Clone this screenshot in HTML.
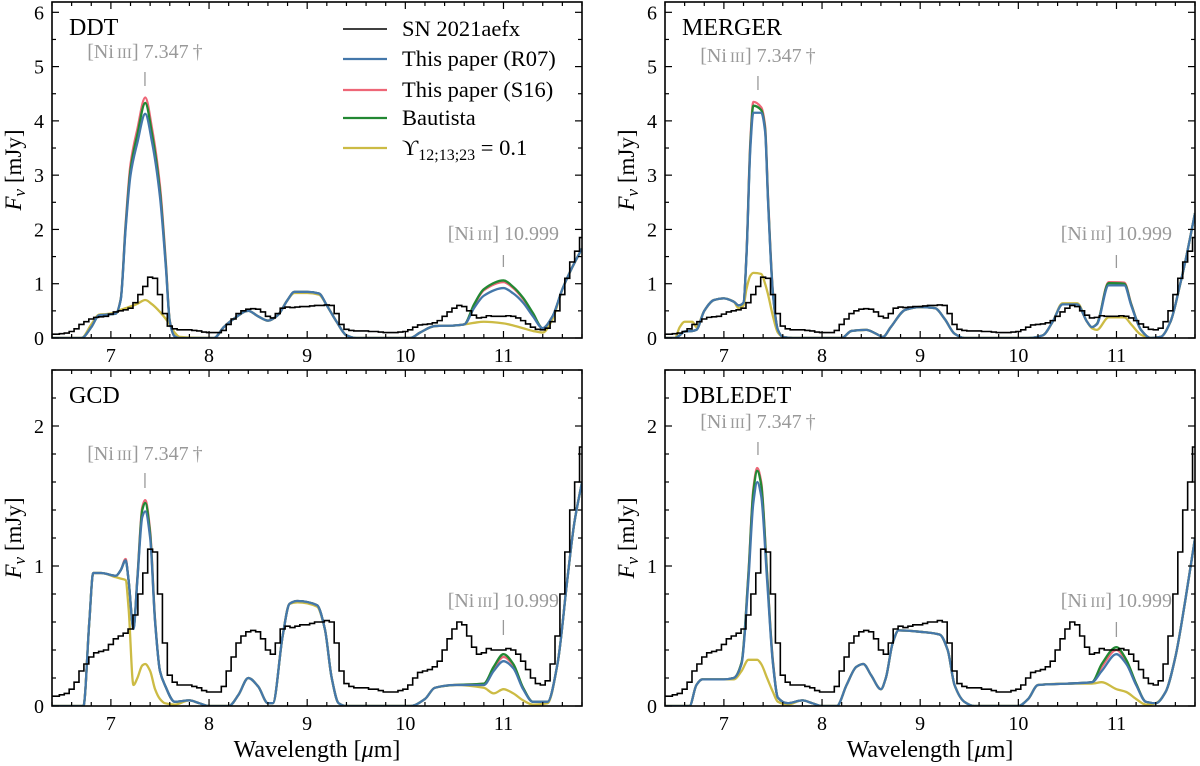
<!DOCTYPE html>
<html>
<head>
<meta charset="utf-8">
<style>
  html,body{margin:0;padding:0;background:#fff;}
  svg{display:block;}
  text{font-family:"Liberation Serif","DejaVu Serif",serif;}
</style>
</head>
<body>
<svg id="fig" width="1200" height="766" viewBox="0 0 1200 766" xmlns="http://www.w3.org/2000/svg"></svg>
<script>
// ---------- Observed spectrum (SN 2021aefx), shared by all panels ----------
const obsWl = [6.40,6.45,6.50,6.55,6.60,6.65,6.70,6.75,6.80,6.85,6.90,6.95,7.00,7.05,7.10,7.15,7.20,7.25,7.30,7.35,7.40,7.45,7.50,7.55,7.60,7.65,7.70,7.75,7.80,7.85,7.90,7.95,8.00,8.05,8.10,8.15,8.20,8.25,8.30,8.35,8.40,8.45,8.50,8.55,8.60,8.65,8.70,8.75,8.80,8.85,8.90,8.95,9.00,9.05,9.10,9.15,9.20,9.25,9.30,9.35,9.40,9.45,9.50,9.55,9.60,9.65,9.70,9.75,9.80,9.85,9.90,9.95,10.00,10.05,10.10,10.15,10.20,10.25,10.30,10.35,10.40,10.45,10.50,10.55,10.60,10.65,10.70,10.75,10.80,10.85,10.90,10.95,11.00,11.05,11.10,11.15,11.20,11.25,11.30,11.35,11.40,11.45,11.50,11.55,11.60,11.65,11.70,11.75,11.80];
const obsFlux = [0.07,0.07,0.08,0.09,0.12,0.17,0.25,0.30,0.35,0.38,0.39,0.40,0.44,0.48,0.50,0.52,0.55,0.65,0.80,0.95,1.12,1.10,0.80,0.45,0.22,0.17,0.15,0.15,0.15,0.14,0.13,0.11,0.10,0.10,0.10,0.14,0.25,0.35,0.45,0.50,0.53,0.54,0.53,0.48,0.40,0.37,0.45,0.55,0.57,0.56,0.57,0.58,0.58,0.59,0.60,0.60,0.61,0.60,0.45,0.25,0.16,0.14,0.13,0.13,0.13,0.12,0.12,0.11,0.10,0.10,0.10,0.11,0.12,0.15,0.20,0.24,0.25,0.26,0.28,0.32,0.40,0.48,0.55,0.60,0.58,0.50,0.42,0.37,0.38,0.41,0.40,0.40,0.40,0.41,0.40,0.37,0.32,0.26,0.20,0.16,0.15,0.18,0.30,0.50,0.80,1.10,1.40,1.60,1.85];

// ---------- DDT ----------
const ddtWl = [6.4,6.7,6.8,6.88,6.95,7.05,7.1,7.15,7.2,7.27,7.35,7.42,7.5,7.56,7.6,7.65,7.7,8.05,8.15,8.25,8.4,8.5,8.6,8.7,8.8,8.87,9.0,9.12,9.2,9.3,9.4,9.5,10.05,10.15,10.3,10.5,10.6,10.7,10.8,11.0,11.1,11.2,11.3,11.4,11.5,11.6,11.7,11.8];
const ddtR07 = [0,0,0.2,0.42,0.43,0.45,0.7,2.0,3.0,3.6,4.13,3.6,2.6,1.3,0.3,0.03,0,0,0.2,0.35,0.5,0.4,0.32,0.42,0.7,0.85,0.85,0.82,0.6,0.3,0.05,0,0,0.1,0.22,0.23,0.25,0.55,0.78,0.92,0.82,0.65,0.4,0.18,0.4,0.9,1.3,1.65];
const ddtS16 = [0,0,0.2,0.42,0.43,0.45,0.72,2.1,3.2,3.85,4.43,3.85,2.8,1.4,0.32,0.03,0,0,0.2,0.35,0.5,0.4,0.32,0.42,0.7,0.85,0.85,0.82,0.6,0.3,0.05,0,0,0.1,0.22,0.23,0.25,0.6,0.88,1.03,0.92,0.72,0.45,0.18,0.4,0.9,1.3,1.65];
const ddtBau = [0,0,0.2,0.42,0.43,0.45,0.71,2.05,3.1,3.75,4.33,3.75,2.7,1.35,0.31,0.03,0,0,0.2,0.35,0.5,0.4,0.32,0.42,0.7,0.85,0.85,0.82,0.6,0.3,0.05,0,0,0.1,0.22,0.23,0.25,0.62,0.9,1.06,0.94,0.74,0.46,0.18,0.4,0.9,1.3,1.65];
const ddtUps = [0,0,0.25,0.43,0.44,0.47,0.52,0.55,0.58,0.63,0.7,0.62,0.48,0.35,0.25,0.1,0.02,0,0.2,0.35,0.5,0.4,0.32,0.42,0.7,0.83,0.83,0.8,0.6,0.3,0.05,0,0,0.1,0.22,0.23,0.25,0.28,0.3,0.27,0.23,0.18,0.13,0.1,0.35,0.9,1.3,1.65];

// ---------- MERGER ----------
const mrgWl = [6.4,6.5,6.55,6.6,6.68,6.72,6.8,6.9,7.0,7.1,7.15,7.2,7.23,7.27,7.3,7.38,7.42,7.45,7.5,7.55,7.6,7.7,8.2,8.3,8.45,8.55,8.62,8.7,8.85,9.0,9.15,9.25,9.35,9.45,10.1,10.25,10.35,10.45,10.6,10.7,10.75,10.8,10.92,11.08,11.15,11.25,11.35,11.45,11.55,11.65,11.7,11.8];
const mrgR07 = [0,0,0.05,0.12,0.13,0.15,0.5,0.7,0.73,0.67,0.6,0.65,1.5,3.5,4.15,4.15,3.8,2.5,0.8,0.15,0.02,0,0,0.13,0.15,0.08,0.02,0.2,0.52,0.57,0.55,0.35,0.08,0,0,0.05,0.3,0.62,0.62,0.3,0.2,0.25,0.97,0.97,0.6,0.15,0,0.02,0.3,1.0,1.4,2.3];
const mrgS16 = [0,0,0.05,0.12,0.13,0.15,0.5,0.7,0.73,0.67,0.6,0.65,1.55,3.65,4.35,4.25,3.9,2.6,0.85,0.15,0.02,0,0,0.13,0.15,0.08,0.02,0.2,0.52,0.57,0.55,0.35,0.08,0,0,0.05,0.3,0.62,0.62,0.3,0.2,0.26,1.03,1.02,0.63,0.15,0,0.02,0.3,1.0,1.4,2.3];
const mrgBau = [0,0,0.05,0.12,0.13,0.15,0.5,0.7,0.73,0.67,0.6,0.65,1.52,3.58,4.28,4.2,3.85,2.55,0.82,0.15,0.02,0,0,0.13,0.15,0.08,0.02,0.2,0.52,0.57,0.55,0.35,0.08,0,0,0.05,0.3,0.62,0.62,0.3,0.2,0.26,1.01,1.0,0.62,0.15,0,0.02,0.3,1.0,1.4,2.3];
const mrgUps = [0,0,0.2,0.3,0.3,0.2,0.5,0.7,0.73,0.67,0.55,0.6,0.9,1.15,1.2,1.18,1.0,0.8,0.4,0.1,0.02,0,0,0.13,0.15,0.08,0.02,0.2,0.52,0.57,0.55,0.35,0.08,0,0,0.05,0.3,0.64,0.64,0.3,0.18,0.15,0.38,0.38,0.25,0.06,0,0.02,0.3,1.0,1.4,2.3];

// ---------- GCD ----------
const gcdWl = [6.4,6.72,6.78,6.82,6.9,7.05,7.1,7.15,7.18,7.23,7.27,7.32,7.35,7.4,7.45,7.5,7.55,7.65,7.8,7.9,8.0,8.2,8.3,8.4,8.5,8.6,8.65,8.75,8.82,8.9,9.1,9.18,9.25,9.32,9.4,10.05,10.2,10.3,10.5,10.8,10.9,11.0,11.1,11.2,11.3,11.45,11.55,11.65,11.72,11.8];
const gcdR07 = [0,0,0.6,0.95,0.95,0.93,0.97,1.04,0.9,0.55,0.9,1.35,1.39,1.2,0.6,0.25,0.15,0.03,0.04,0.02,0,0,0.08,0.2,0.14,0.02,0.02,0.5,0.73,0.75,0.72,0.55,0.2,0.02,0,0,0.05,0.13,0.15,0.15,0.25,0.32,0.27,0.12,0.03,0.03,0.3,0.9,1.3,1.6];
const gcdS16 = [0,0,0.6,0.95,0.95,0.93,0.97,1.05,0.9,0.56,0.92,1.42,1.47,1.25,0.62,0.25,0.15,0.03,0.04,0.02,0,0,0.08,0.2,0.14,0.02,0.02,0.5,0.73,0.75,0.72,0.55,0.2,0.02,0,0,0.05,0.13,0.15,0.16,0.27,0.35,0.29,0.13,0.03,0.03,0.3,0.9,1.3,1.6];
const gcdBau = [0,0,0.6,0.95,0.95,0.93,0.97,1.04,0.9,0.56,0.91,1.4,1.45,1.23,0.61,0.25,0.15,0.03,0.04,0.02,0,0,0.08,0.2,0.14,0.02,0.02,0.5,0.73,0.75,0.72,0.55,0.2,0.02,0,0,0.05,0.13,0.15,0.16,0.28,0.37,0.3,0.13,0.03,0.03,0.3,0.9,1.3,1.6];
const gcdUps = [0,0,0.6,0.95,0.95,0.92,0.91,0.9,0.7,0.15,0.2,0.29,0.3,0.25,0.12,0.05,0.02,0.01,0.04,0.02,0,0,0.08,0.2,0.14,0.02,0.02,0.5,0.73,0.74,0.71,0.55,0.2,0.02,0,0,0.05,0.13,0.15,0.13,0.09,0.12,0.09,0.04,0.01,0.02,0.3,0.9,1.3,1.6];

// ---------- DBLEDET ----------
const dblWl = [6.4,6.65,6.72,6.78,7.0,7.1,7.18,7.25,7.3,7.34,7.38,7.44,7.5,7.55,7.65,7.8,7.9,8.0,8.15,8.25,8.35,8.42,8.5,8.6,8.65,8.72,8.78,9.0,9.2,9.28,9.35,9.45,9.55,10.0,10.1,10.2,10.5,10.75,10.85,11.0,11.1,11.2,11.3,11.4,11.5,11.6,11.7,11.8];
const dblR07 = [0,0,0.15,0.19,0.19,0.2,0.3,0.9,1.45,1.6,1.5,0.9,0.3,0.06,0.02,0.04,0.02,0,0,0.15,0.28,0.3,0.22,0.12,0.2,0.45,0.54,0.53,0.51,0.4,0.15,0.03,0,0,0.05,0.15,0.16,0.17,0.25,0.37,0.3,0.15,0.03,0.02,0.1,0.35,0.75,1.2];
const dblS16 = [0,0,0.15,0.19,0.19,0.2,0.31,0.95,1.55,1.7,1.6,0.95,0.32,0.06,0.02,0.04,0.02,0,0,0.15,0.28,0.3,0.22,0.12,0.2,0.45,0.54,0.53,0.51,0.4,0.15,0.03,0,0,0.05,0.15,0.16,0.17,0.28,0.4,0.32,0.16,0.03,0.02,0.1,0.35,0.75,1.2];
const dblBau = [0,0,0.15,0.19,0.19,0.2,0.31,0.94,1.53,1.68,1.58,0.94,0.31,0.06,0.02,0.04,0.02,0,0,0.15,0.28,0.3,0.22,0.12,0.2,0.45,0.54,0.53,0.51,0.4,0.15,0.03,0,0,0.05,0.15,0.16,0.17,0.3,0.42,0.33,0.16,0.03,0.02,0.1,0.35,0.75,1.2];
const dblUps = [0,0,0.15,0.19,0.19,0.19,0.25,0.33,0.33,0.33,0.3,0.2,0.1,0.03,0.01,0.04,0.02,0,0,0.15,0.28,0.3,0.22,0.12,0.2,0.45,0.54,0.53,0.51,0.4,0.15,0.03,0,0,0.05,0.15,0.16,0.16,0.17,0.12,0.1,0.05,0.01,0.02,0.1,0.35,0.75,1.2];

const xTicks = [7,8,9,10,11];
const topYTicks = [0,1,2,3,4,5,6];
const botYTicks = [0,1,2];
const legendLabels = ["SN 2021aefx","This paper (R07)","This paper (S16)","Bautista"];

const COL = {obs:"#000000", r07:"#4477aa", s16:"#ee6677", bau:"#228833", ups:"#ccbb44", ann:"#999999"};
const NS = "http://www.w3.org/2000/svg";
const svg = document.getElementById("fig");

function mk(tag, attrs, parent){
  const e = document.createElementNS(NS, tag);
  for (const k in attrs) e.setAttribute(k, attrs[k]);
  (parent || svg).appendChild(e);
  return e;
}

function monoPath(px, py){
  const n = px.length;
  const d = [], m = new Array(n).fill(0);
  for (let i=0;i<n-1;i++) d.push((py[i+1]-py[i])/(px[i+1]-px[i]));
  m[0]=d[0]; m[n-1]=d[n-2];
  for (let i=1;i<n-1;i++){
    if (d[i-1]*d[i] <= 0) m[i]=0;
    else { const w1=2*(px[i+1]-px[i])+(px[i]-px[i-1]), w2=(px[i+1]-px[i])+2*(px[i]-px[i-1]);
      m[i]=(w1+w2)/(w1/d[i-1]+w2/d[i]); }
  }
  let s = "M"+px[0].toFixed(2)+","+py[0].toFixed(2);
  for (let i=0;i<n-1;i++){
    const h=(px[i+1]-px[i])/3;
    s += " C"+(px[i]+h).toFixed(2)+","+(py[i]+m[i]*h).toFixed(2)+" "+(px[i+1]-h).toFixed(2)+","+(py[i+1]-m[i+1]*h).toFixed(2)+" "+px[i+1].toFixed(2)+","+py[i+1].toFixed(2);
  }
  return s;
}

const panels = [
  {name:"ddt", label:"DDT", x0:52, x1:582, yT:2, yB:338, ymax:6.19, yticks:topYTicks, ystep:0.5, wl:ddtWl, r07:ddtR07, s16:ddtS16, bau:ddtBau, ups:ddtUps, legend:true, xl:false, ann1:58, t1:[72,86], ann2:240, t2:[255,267]},
  {name:"merger", label:"MERGER", x0:665, x1:1195, yT:2, yB:338, ymax:6.19, yticks:topYTicks, ystep:0.5, wl:mrgWl, r07:mrgR07, s16:mrgS16, bau:mrgBau, ups:mrgUps, legend:false, xl:false, ann1:62, t1:[76,90], ann2:240, t2:[255,268]},
  {name:"gcd", label:"GCD", x0:52, x1:582, yT:370, yB:706, ymax:2.40, yticks:botYTicks, ystep:0.2, wl:gcdWl, r07:gcdR07, s16:gcdS16, bau:gcdBau, ups:gcdUps, legend:false, xl:true, ann1:460, t1:[473,488], ann2:607, t2:[620,635]},
  {name:"dbledet", label:"DBLEDET", x0:665, x1:1195, yT:370, yB:706, ymax:2.40, yticks:botYTicks, ystep:0.2, wl:dblWl, r07:dblR07, s16:dblS16, bau:dblBau, ups:dblUps, legend:false, xl:true, ann1:428, t1:[442,455], ann2:607, t2:[622,637]}
];
const XMIN=6.4, XMAX=11.8;

function annot(g, txt, cx, base, t, num){
  const te = mk("text", {x:cx, y:base, "text-anchor":"middle", "font-size":"20", fill:COL.ann}, g);
  
  
  const a = document.createElementNS(NS,"tspan"); a.textContent="[Ni"; te.appendChild(a);
  const b = document.createElementNS(NS,"tspan"); b.setAttribute("font-size","15"); b.textContent="\u2009III"; te.appendChild(b);
  const c = document.createElementNS(NS,"tspan"); c.textContent="] "+txt; te.appendChild(c);
  const ln = mk("line", {x1:cx, x2:cx, y1:t[0], y2:t[1], stroke:COL.ann, "stroke-width":1.3}, g);
  
  
}

panels.forEach(p => {
  const sx = v => p.x0 + (v - XMIN) / (XMAX - XMIN) * (p.x1 - p.x0);
  const sy = v => p.yB - v / p.ymax * (p.yB - p.yT);
  const g = mk("g", {});
  
  

  const cp = mk("clipPath", {id:"clip-"+p.name}, g);
  mk("rect", {x:p.x0, y:p.yT, width:p.x1-p.x0, height:p.yB-p.yT}, cp);
  const plot = mk("g", {"clip-path":"url(#clip-"+p.name+")"}, g);
  
  

  [["s16",COL.s16],["bau",COL.bau],["ups",COL.ups],["r07",COL.r07]].forEach(([key,col]) => {
    const px = p.wl.map(sx), py = p[key].map(sy);
    const path = mk("path", {d:monoPath(px,py), fill:"none", stroke:col, "stroke-width":2.3, "stroke-linejoin":"round"}, plot);
    
    
  });

  let d = "";
  for (let i=0;i<obsWl.length;i++){
    const xl = i===0 ? obsWl[0] : (obsWl[i-1]+obsWl[i])/2;
    const xr = i===obsWl.length-1 ? obsWl[i] : (obsWl[i]+obsWl[i+1])/2;
    const y = sy(obsFlux[i]).toFixed(2);
    d += (i===0?"M":"L") + sx(xl).toFixed(2)+","+y+" L"+sx(xr).toFixed(2)+","+y+" ";
  }
  const op = mk("path", {d:d, fill:"none", stroke:COL.obs, "stroke-width":1.6}, plot);
  
  

  const fr = mk("rect", {x:p.x0, y:p.yT, width:p.x1-p.x0, height:p.yB-p.yT, fill:"none", stroke:"#000", "stroke-width":1.6}, g);
  
  

  for (let v=6.4; v<=11.81; v+=0.2){
    const vv = Math.round(v*10)/10;
    const major = Math.abs(vv - Math.round(vv)) < 1e-6;
    const L = major ? 7 : 4, X = sx(vv);
    mk("line", {x1:X,x2:X,y1:p.yB,y2:p.yB-L,stroke:"#000","stroke-width":1.2}, g);
    mk("line", {x1:X,x2:X,y1:p.yT,y2:p.yT+L,stroke:"#000","stroke-width":1.2}, g);
  }
  xTicks.forEach(v => {
    const t = mk("text", {x:sx(v), y:p.yB+24, "text-anchor":"middle", "font-size":"20"}, g);
    
    
    t.textContent = v;
  });
  for (let v=0; v<=p.ymax+1e-6; v+=p.ystep){
    const vv = Math.round(v*10)/10;
    const major = Math.abs(vv - Math.round(vv)) < 1e-6;
    const L = major ? 7 : 4, Y = sy(vv);
    mk("line", {x1:p.x0,x2:p.x0+L,y1:Y,y2:Y,stroke:"#000","stroke-width":1.2}, g);
    mk("line", {x1:p.x1,x2:p.x1-L,y1:Y,y2:Y,stroke:"#000","stroke-width":1.2}, g);
  }
  p.yticks.forEach(v => {
    const t = mk("text", {x:p.x0-8, y:sy(v)+7, "text-anchor":"end", "font-size":"20"}, g);
    
    
    t.textContent = v;
  });

  const cy = (p.yT+p.yB)/2;
  const yt = mk("text", {x:0, y:0, "text-anchor":"middle", "font-size":"23", transform:"translate("+(p.x0-31)+","+cy+") rotate(-90)"}, g);
  
  
  const ya = document.createElementNS(NS,"tspan"); ya.setAttribute("font-style","italic"); ya.textContent="F"; yt.appendChild(ya);
  const yb = document.createElementNS(NS,"tspan"); yb.setAttribute("font-style","italic"); yb.setAttribute("font-size","17"); yb.setAttribute("dy","4"); yb.textContent="\u03BD"; yt.appendChild(yb);
  const yc = document.createElementNS(NS,"tspan"); yc.setAttribute("dy","-4"); yc.textContent="  [mJy]"; yt.appendChild(yc);

  if (p.xl){
    const xt = mk("text", {x:(p.x0+p.x1)/2, y:757, "text-anchor":"middle", "font-size":"24"}, g);
    
    
    xt.textContent = "Wavelength [";
    const mu = document.createElementNS(NS,"tspan"); mu.setAttribute("font-style","italic"); mu.textContent="\u03BC"; xt.appendChild(mu);
    const mm = document.createElementNS(NS,"tspan"); mm.textContent="m]"; xt.appendChild(mm);
  }

  const pl = mk("text", {x:p.x0+17, y:p.yT+33, "font-size":"24"}, g);
  
  
  pl.textContent = p.label;

  annot(g, "7.347\u2009\u2020", sx(7.347), p.ann1, p.t1, "7347");
  annot(g, "10.999", sx(10.999), p.ann2, p.t2, "10999");

  if (p.legend){
    const lg = mk("g", {}, g);
    
    
    const cols = [COL.obs, COL.r07, COL.s16, COL.bau, COL.ups];
    const rows = [29, 59, 90, 118, 148];
    for (let i=0;i<5;i++){
      const ent = mk("g", {}, lg);
      
      
      mk("line", {x1:343, x2:387, y1:rows[i], y2:rows[i], stroke:cols[i], "stroke-width": i===0?1.6:2.3}, ent);
      const t = mk("text", {x:402, y:rows[i]+7, "font-size":"22.5"}, ent);
      if (i<4) t.textContent = legendLabels[i];
      else {
        t.textContent = "\u03D2";
        const s = document.createElementNS(NS,"tspan"); s.setAttribute("font-size","16"); s.setAttribute("dy","5"); s.textContent="12;13;23"; t.appendChild(s);
        const r = document.createElementNS(NS,"tspan"); r.setAttribute("dy","-5"); r.textContent=" = 0.1"; t.appendChild(r);
      }
    }
  }
});
</script>
</body>
</html>
